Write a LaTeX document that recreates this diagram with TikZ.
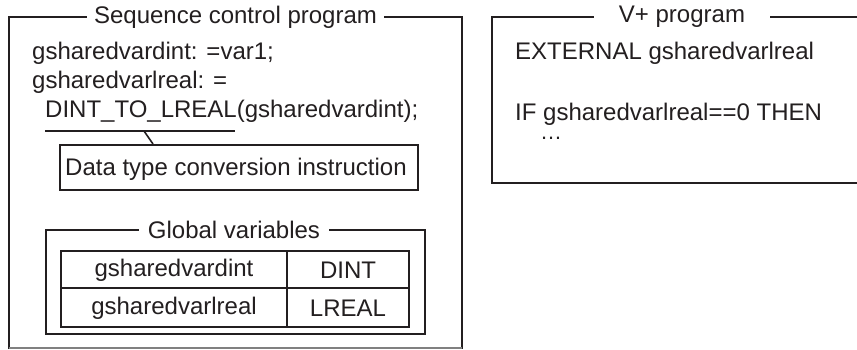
\documentclass[tikz,border=0pt]{standalone}
\usepackage{fontspec}
\setmainfont{Liberation Sans}
\definecolor{ink}{HTML}{231F20}
\begin{document}
\begin{tikzpicture}[x=1pt,y=-1pt,
  frame/.style={draw=ink,line width=2.2pt},
  thin/.style={draw=ink,line width=1.6pt},
  txt/.style={font=\fontsize{24}{28}\selectfont,text=ink,inner sep=0pt,anchor=base west},
  ttl/.style={font=\fontsize{24}{28}\selectfont,text=ink,fill=white,inner ysep=2pt,inner xsep=7pt},
  cell/.style={font=\fontsize{24}{28}\selectfont,text=ink,inner sep=0pt}]
\useasboundingbox (0,0) rectangle (857,349);
\fill[white] (0,0) rectangle (857,349);
% left outer box
\draw[frame] (9,349) -- (9,17) -- (462,17) -- (462,349);
\draw[gray,line width=1.2pt] (9,348) -- (462,348);
\node[ttl] (lt) at (235.5,17) {Sequence control program};
% code lines
\node[txt] (l1) at (32,59) {gsharedvardint: =var1;};
\node[txt] (l2) at (32,88) {gsharedvarlreal: =};
\node[txt] (l3) at (45,117) {DINT\_TO\_LREAL(gsharedvardint);};
% underline and callout
\coordinate (u1) at (45,131);
\coordinate (u2) at (235,131);
\coordinate (uc) at (144,131);
\draw[thin] (u1) -- (u2);
\node[draw=ink,line width=1.6pt,minimum width=358pt,minimum height=45pt,inner sep=0pt,anchor=north west] (conv) at (59,144) {};
\node[txt] (convt) at (65,175) {Data type conversion instruction};
\draw[thin] (uc) -- (conv.north west -| 153,0);
% global variables box
\draw[frame] (46,230) rectangle (425,334);
\node[ttl,inner xsep=9pt] (gt) at (234,230) {Global variables};
% table
\draw[thin] (61,251) rectangle (409,327);
\draw[thin] (61,288) -- (409,288);
\draw[thin] (287,251) -- (287,327);
\node[cell] (a1) at (174,270) {gsharedvardint};
\node[cell] (b1) at (348,270) {DINT};
\node[cell] (a2) at (174,308) {gsharedvarlreal};
\node[cell] (b2) at (348,308) {LREAL};
% right box
\draw[frame] (860,17) -- (492,17) -- (492,183) -- (860,183);
\node[ttl,inner xsep=25pt] (rt) at (682,17) {V+ program};
\node[txt] (r1) at (515,59) {EXTERNAL gsharedvarlreal};
\node[txt] (r2) at (515,120) {IF gsharedvarlreal==0 THEN};
\node[txt,text height=3pt,text depth=0pt] (r3) at (540,139) {\fontsize{22}{24}\selectfont\ldots};
\end{tikzpicture}
\end{document}
